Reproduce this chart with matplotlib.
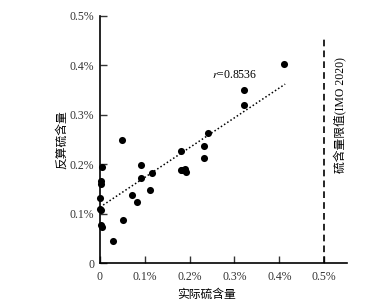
import matplotlib
matplotlib.use("Agg")
import matplotlib.pyplot as plt
from matplotlib.ticker import FuncFormatter

plt.rcParams['font.family'] = ['Liberation Serif', 'Noto Sans CJK SC']
plt.rcParams['mathtext.fontset'] = 'stix'

# data (percent units)
actual = [0.050, 0.004, 0.002, 0.003, 0.000, 0.000, 0.003, 0.003, 0.005,
          0.030, 0.051, 0.071, 0.082, 0.091, 0.091, 0.115, 0.112,
          0.180, 0.180, 0.182, 0.190, 0.191, 0.231, 0.231, 0.240,
          0.321, 0.321, 0.411]
estimated = [0.249, 0.195, 0.165, 0.160, 0.131, 0.110, 0.107, 0.077, 0.073,
             0.045, 0.088, 0.138, 0.124, 0.198, 0.173, 0.182, 0.148,
             0.227, 0.188, 0.188, 0.190, 0.184, 0.236, 0.212, 0.263,
             0.350, 0.320, 0.403]
fit_x = [0.0, 0.413]
fit_y = [0.113, 0.362]
limit_x = 0.5
limit_top = 0.46
xlabel = "实际硫含量"
ylabel = "反算硫含量"
limit_label = "硫含量限值(IMO 2020)"
xticks = [0, 0.1, 0.2, 0.3, 0.4, 0.5]
yticks = [0, 0.1, 0.2, 0.3, 0.4, 0.5]

fig = plt.figure(figsize=(3.86, 3.06), dpi=100)
ax = fig.add_axes([0.259, 0.1405, 0.64, 0.8075])

ax.scatter(actual, estimated, s=26, color='black', zorder=3, clip_on=False, linewidths=0)
ax.plot(fit_x, fit_y, linestyle=(0, (1, 1.5)), color='black', lw=1.1)
ax.plot([limit_x, limit_x], [0, limit_top], linestyle=(0, (4, 2.5)), color='black', lw=1.2)

ax.text(0.25, 0.381, "$r$=0.8536", fontsize=8.5, ha='left', va='center')
ax.text(0.537, 0.30, limit_label, rotation=90, fontsize=8.5, ha='center', va='center')

ax.set_xlim(0, 0.551)
ax.set_ylim(0, 0.5)
ax.set_xticks(xticks)
ax.set_yticks(yticks)
fmt = FuncFormatter(lambda v, p: "0" if abs(v) < 1e-9 else f"{v:.1f}%")
ax.xaxis.set_major_formatter(fmt)
ax.yaxis.set_major_formatter(fmt)
ax.tick_params(direction='in', length=5, width=1, labelsize=8.5, colors='#333333')
ax.tick_params(axis='x', pad=6)
ax.tick_params(axis='y', pad=4)
for s in ['top', 'right']:
    ax.spines[s].set_visible(False)
for s in ['left', 'bottom']:
    ax.spines[s].set_linewidth(1.2)

ax.set_xlabel(xlabel, fontsize=8.5)
ax.set_ylabel(ylabel, fontsize=8.5)
ax.xaxis.set_label_coords(0.43, -0.105)
ax.yaxis.set_label_coords(-0.13, 0.5)

fig.savefig("out.png", dpi=100, facecolor='white')
